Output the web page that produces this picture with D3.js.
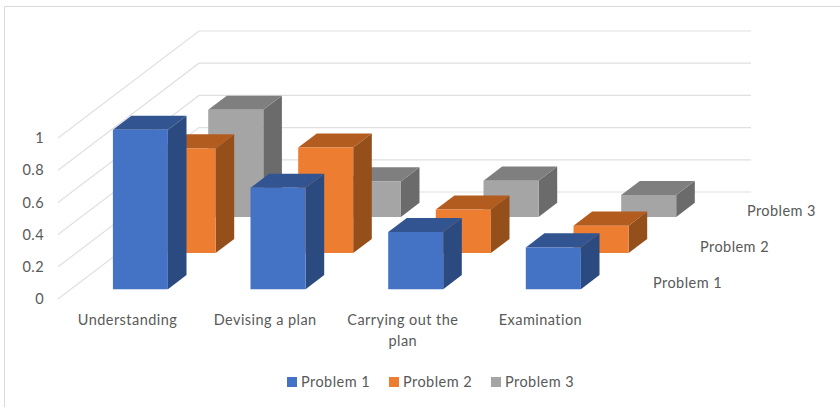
<!DOCTYPE html>
<html>
<head>
<meta charset="utf-8">
<script src="https://cdnjs.cloudflare.com/ajax/libs/d3/7.8.5/d3.min.js"></script>
<style>
  html, body { margin: 0; padding: 0; background: #fff; }
  svg { display: block; }
  text { font-family: Lato, "Open Sans", sans-serif; fill: #595959; letter-spacing: 0.45px; }
</style>
</head>
<body>
<svg id="chart" width="840" height="407"></svg>
<script>
const categories = ["Understanding", "Devising a plan", "Carrying out the plan", "Examination"];
const seriesNames = ["Problem 1", "Problem 2", "Problem 3"];
const problem1 = [0.99, 0.63, 0.355, 0.26];
const problem2 = [0.65, 0.655, 0.27, 0.17];
const problem3 = [0.665, 0.22, 0.225, 0.135];
const valueTicks = [0, 0.2, 0.4, 0.6, 0.8, 1];
const legendOffsets = [287, 389, 491];
const palette = [
  { front: "#4472c4", top: "#325592", side: "#2b4a80" },
  { front: "#ed7d31", top: "#b35c20", side: "#954f1b" },
  { front: "#a5a5a5", top: "#7f7f7f", side: "#6b6b6b" }
];
const seriesValues = [problem1, problem2, problem3];
const labelSize = 14.5;

const svg = d3.select("#chart");

// Oblique projection: floor origin, wall width, wall depth and wall height.
const originX = 58, originY = 299;
const wallWidth = 552, wallDepth = 107, wallHeight = 161;
const skew = 141 / wallDepth;

const x = d3.scaleBand().domain(categories).range([0, wallWidth]).paddingInner(0.6).paddingOuter(0.305);
const depth = d3.scaleBand().domain(seriesNames).range([0, 106]).paddingInner(0.61).paddingOuter(0.27);
const y = d3.scaleLinear().domain([0, 1]).range([0, wallHeight]);

const project = (px, pd, pv) => [originX + px + pd * skew, originY - pd - pv];
const poly = pts => pts.map(p => p.map(n => n.toFixed(1)).join(",")).join(" ");

// Chart frame
svg.append("path")
  .attr("d", "M4.5,407V6.5H840")
  .attr("fill", "none").attr("stroke", "#d9d9d9").attr("stroke-width", 1);

// Gridlines on the left and back walls
const grid = svg.append("g").attr("fill", "none").attr("stroke", "#e0e0e0").attr("stroke-width", 1.2);
grid.selectAll("polyline").data(valueTicks).join("polyline")
  .attr("points", v => poly([
    project(0, 0, y(v)),
    project(0, wallDepth, y(v)),
    project(wallWidth, wallDepth, y(v))
  ]));

// Value axis labels
const yAxisScale = d3.scaleLinear().domain([0, 1]).range([originY, originY - wallHeight]);
const yAxis = svg.append("g")
  .attr("transform", "translate(52,0)")
  .call(d3.axisLeft(yAxisScale).tickValues(valueTicks).tickFormat(d3.format("~g")).tickSize(0).tickPadding(8));
yAxis.select(".domain").remove();
yAxis.selectAll("text").attr("font-size", labelSize).style("font-family", 'Lato, "Open Sans", sans-serif').attr("fill", "#595959");

// Bars, back row first so nearer rows overlap them
const rows = seriesNames.map((name, i) => ({ name, i, values: seriesValues[i] })).reverse();
const rowGroups = svg.selectAll("g.row").data(rows).join("g").attr("class", "row");

rowGroups.each(function (row) {
  const colors = palette[row.i];
  const d0 = depth(row.name), d1 = d0 + depth.bandwidth();
  const bars = d3.select(this).selectAll("g").data(categories.map((c, k) => ({ c, v: row.values[k] }))).join("g");
  const corners = b => {
    const x0 = x(b.c), x1 = x0 + x.bandwidth(), h = y(b.v);
    return { x0, x1, h };
  };
  bars.append("polygon").attr("fill", colors.side).attr("points", b => {
    const { x1, h } = corners(b);
    return poly([project(x1, d0, 0), project(x1, d1, 0), project(x1, d1, h), project(x1, d0, h)]);
  });
  bars.append("polygon").attr("fill", colors.top).attr("points", b => {
    const { x0, x1, h } = corners(b);
    return poly([project(x0, d0, h), project(x1, d0, h), project(x1, d1, h), project(x0, d1, h)]);
  });
  bars.append("polygon").attr("fill", colors.front).attr("points", b => {
    const { x0, x1, h } = corners(b);
    return poly([project(x0, d0, 0), project(x1, d0, 0), project(x1, d0, h), project(x0, d0, h)]);
  });
});

// Category labels below the front edge, wrapped the way the axis wraps them
const categoryLines = c => c === "Carrying out the plan" ? ["Carrying out the", "plan"] : [c];
const catLabels = svg.append("g").selectAll("text").data(categories).join("text")
  .attr("text-anchor", "middle").attr("font-size", labelSize)
  .attr("y", 325);
catLabels.selectAll("tspan").data(c => categoryLines(c).map(t => ({ t, c }))).join("tspan")
  .attr("x", d => originX + x(d.c) + x.bandwidth() / 2)
  .attr("dy", (d, i) => i ? 21 : 0)
  .text(d => d.t);

// Series labels along the depth axis
svg.append("g").selectAll("text").data(seriesNames).join("text")
  .attr("font-size", labelSize)
  .attr("x", s => originX + wallWidth + 43 + (depth(s) - depth(seriesNames[0])) * skew * 0.985)
  .attr("y", s => 288 - (depth(s) - depth(seriesNames[0])))
  .text(s => s);

// Legend
const legend = svg.append("g").selectAll("g").data(seriesNames).join("g")
  .attr("transform", (s, i) => `translate(${legendOffsets[i]},0)`);
legend.append("rect").attr("y", 377).attr("width", 10).attr("height", 10)
  .attr("fill", (s, i) => palette[i].front);
legend.append("text").attr("x", 14).attr("y", 387).attr("font-size", labelSize).text(s => s);
</script>
</body>
</html>
